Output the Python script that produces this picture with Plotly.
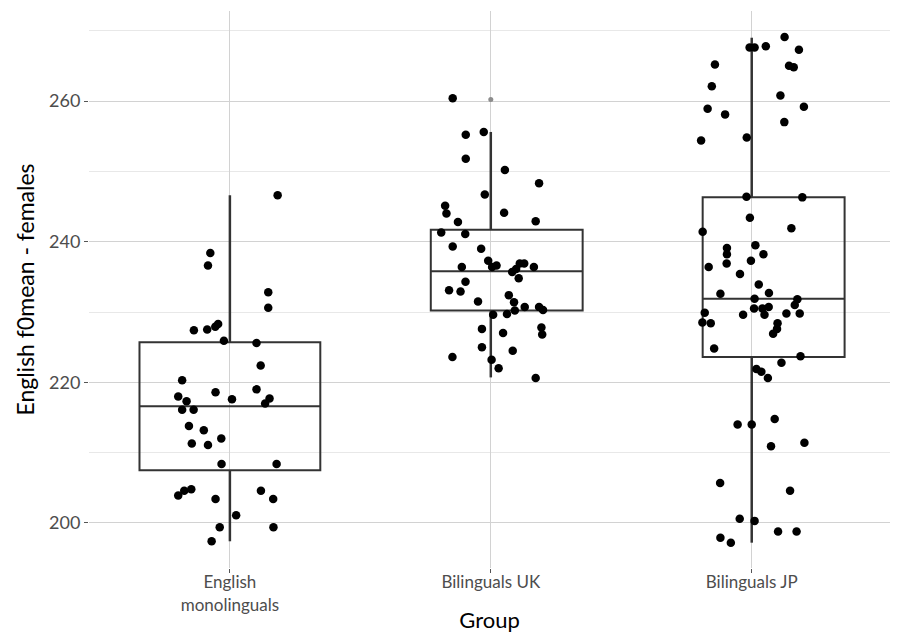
import plotly.graph_objects as go

# Group labels on the x axis
groups = ["English<br>monolinguals", "Bilinguals UK", "Bilinguals JP"]

# Box statistics per group (q1, median, q3, whisker ends)
q1 = [207.5, 230.2, 223.6]
median = [216.6, 235.8, 231.9]
q3 = [225.7, 241.7, 246.3]
lower_whisker = [197.4, 220.7, 197.2]
upper_whisker = [246.6, 255.6, 269.0]

# Outlier flagged by the boxplot for Bilinguals UK
outlier_group = [1]
outlier_value = [260.2]

# Individual speakers: horizontal jitter (in category units) and f0 mean
eng_jitter = [-0.183, -0.055, -0.198, -0.166, 0.008, 0.102, 0.152, 0.135, -0.183, -0.139,
              -0.157, -0.100, -0.033, -0.146, -0.084, -0.032, 0.179, -0.198, -0.175, -0.148,
              -0.055, 0.119, 0.166, 0.024, -0.039, 0.167, -0.070, 0.183, -0.075, -0.084,
              0.147, 0.147, -0.138, -0.087, -0.056, -0.045, -0.023, 0.102, 0.118]
eng_f0 = [220.3, 218.6, 218.0, 217.3, 217.6, 219.0, 217.7, 217.0, 216.1, 216.1,
          213.8, 213.2, 212.0, 211.3, 211.1, 208.4, 208.4, 203.9, 204.6, 204.8,
          203.4, 204.6, 203.4, 201.1, 199.4, 199.4, 197.4, 246.6, 238.4, 236.6,
          232.8, 230.6, 227.4, 227.5, 227.9, 228.3, 225.9, 225.6, 222.4]

uk_jitter = [-0.146, -0.096, -0.027, -0.096, 0.054, 0.185, -0.023, -0.175, -0.170, 0.051,
             -0.126, 0.172, -0.190, -0.098, -0.146, -0.037, -0.010, 0.005, 0.022, -0.111,
             0.111, 0.128, 0.165, 0.082, 0.097, 0.107, -0.097, -0.160, -0.116, 0.069,
             -0.049, 0.089, 0.130, 0.185, 0.200, 0.092, 0.009, 0.062, -0.034, 0.047,
             0.194, 0.197, -0.034, 0.084, -0.147, 0.003, 0.030, 0.172]
uk_f0 = [260.4, 255.2, 255.6, 251.8, 250.2, 248.3, 246.7, 245.1, 244.0, 244.1,
         242.8, 242.9, 241.3, 241.1, 239.3, 239.0, 237.3, 236.4, 236.6, 236.4,
         236.9, 236.9, 236.4, 235.7, 236.1, 234.8, 234.3, 233.1, 232.9, 232.4,
         231.5, 231.4, 230.7, 230.7, 230.3, 230.2, 229.6, 229.7, 227.6, 227.0,
         227.8, 226.8, 225.0, 224.5, 223.6, 223.2, 222.0, 220.6]

jp_jitter = [-0.008, 0.011, 0.054, 0.126, 0.181, -0.141, 0.143, 0.161, -0.153, 0.110,
             -0.169, 0.200, -0.102, 0.125, -0.194, -0.019, -0.020, 0.194, -0.007, -0.188,
             0.152, -0.095, -0.095, -0.096, 0.014, 0.045, -0.165, -0.003, -0.045, 0.027,
             0.066, -0.120, 0.011, 0.175, 0.165, 0.009, 0.041, 0.065, 0.049, -0.180,
             -0.189, -0.157, -0.033, 0.133, 0.184, 0.099, 0.097, 0.082, -0.144, 0.187,
             0.114, 0.018, 0.037, 0.062, 0.088, -0.054, 0.000, 0.074, 0.202, -0.121,
             0.147, -0.046, 0.011, 0.101, 0.172, -0.120, -0.080]
jp_f0 = [267.6, 267.6, 267.8, 269.1, 267.3, 265.2, 265.0, 264.8, 262.1, 260.8,
         258.9, 259.2, 258.1, 257.0, 254.4, 254.8, 246.4, 246.3, 243.4, 241.4,
         241.9, 239.1, 238.2, 236.9, 239.5, 238.2, 236.4, 237.3, 235.4, 233.9,
         232.7, 232.6, 231.9, 231.8, 231.0, 230.5, 230.5, 230.7, 229.6, 229.9,
         228.5, 228.4, 229.6, 229.8, 229.8, 228.4, 227.6, 226.9, 224.8, 223.7,
         222.8, 221.9, 221.5, 220.6, 214.8, 214.0, 214.0, 210.9, 211.4, 205.7,
         204.6, 200.6, 200.3, 198.8, 198.8, 197.9, 197.2]

# Box placement (category units)
box_center = [0.0, 1.061, 2.084]
box_width = [0.693, 0.582, 0.544]

BOX_COLOR = "#333333"
FONT = "Lato"

fig = go.Figure()

# Boxes (no whiskers; whiskers drawn at the category position below)
for i in range(3):
    fig.add_trace(go.Box(
        x=[box_center[i]], q1=[q1[i]], median=[median[i]], q3=[q3[i]],
        lowerfence=[q1[i]], upperfence=[q3[i]],
        width=box_width[i], whiskerwidth=0,
        fillcolor="rgba(0,0,0,0)",
        line=dict(color=BOX_COLOR, width=2),
        boxpoints=False, hoverinfo="skip", showlegend=False,
    ))

# Whiskers
wx, wy = [], []
for i in range(3):
    wx += [i, i, None, i, i, None]
    wy += [lower_whisker[i], q1[i], None, q3[i], upper_whisker[i], None]
fig.add_trace(go.Scatter(x=wx, y=wy, mode="lines",
                         line=dict(color=BOX_COLOR, width=2.5),
                         hoverinfo="skip", showlegend=False))

# Boxplot outlier
fig.add_trace(go.Scatter(x=outlier_group, y=outlier_value, mode="markers",
                         marker=dict(color="#8c8c8c", size=5),
                         showlegend=False))

# Jittered speaker points
for gi, (jit, vals) in enumerate([(eng_jitter, eng_f0), (uk_jitter, uk_f0), (jp_jitter, jp_f0)]):
    fig.add_trace(go.Scatter(
        x=[gi + j for j in jit], y=vals, mode="markers",
        marker=dict(color="black", size=8.5),
        showlegend=False,
    ))

fig.update_layout(
    width=897, height=633,
    margin=dict(l=89, r=7, t=11, b=65),
    plot_bgcolor="white", paper_bgcolor="white",
    font=dict(family=FONT, color="#4d4d4d"),
)

fig.update_xaxes(
    range=[-0.54, 2.53], automargin=False,
    tickmode="array", tickvals=[0, 1, 2], ticktext=groups,
    showgrid=True, gridcolor="#d2d2d2", gridwidth=1,
    zeroline=False, showline=False,
    ticks="outside", ticklen=4, tickcolor="#555555",
    ticklabelstandoff=-5,
    tickfont=dict(size=17, color="#4d4d4d", family=FONT),
    title=dict(text="Group", font=dict(size=22, color="black", family=FONT), standoff=8),
)

fig.update_yaxes(
    range=[193.6, 272.8], automargin=False,
    tickmode="array", tickvals=[200, 220, 240, 260],
    showgrid=True, gridcolor="#d2d2d2", gridwidth=1,
    minor=dict(tickmode="array", tickvals=[210, 230, 250, 270],
               showgrid=True, gridcolor="#e8e8e8", gridwidth=1, ticks=""),
    zeroline=False, showline=False,
    ticks="outside", ticklen=4, tickcolor="#555555",
    tickfont=dict(size=18, color="#4d4d4d", family=FONT),
    title=dict(text="English f0mean - females", font=dict(size=23, color="black", family=FONT), standoff=8),
)

fig.write_html("out.html")
